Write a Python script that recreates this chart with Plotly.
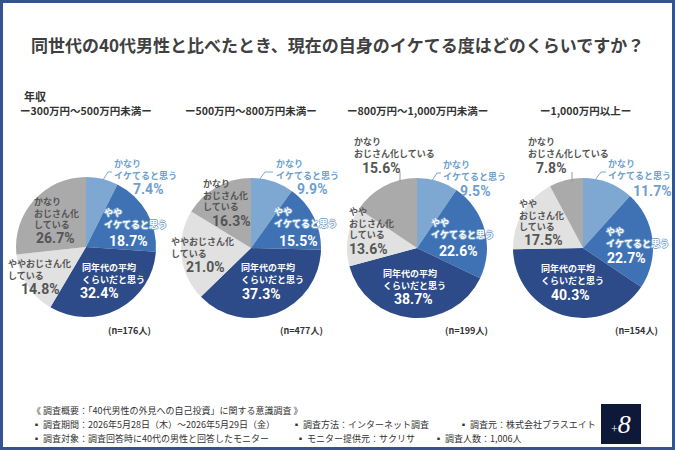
import plotly.graph_objects as go

W, H = 675, 450

# ---------------- data ----------------
categories = ["かなりイケてると思う", "ややイケてると思う", "同年代の平均くらいだと思う",
              "ややおじさん化している", "かなりおじさん化している"]
income_groups = ["ー300万円～500万円未満ー", "ー500万円～800万円未満ー",
                 "ー800万円～1,000万円未満ー", "ー1,000万円以上ー"]
sample_sizes = [176, 477, 199, 154]
vals_300_500 = [7.4, 18.7, 32.4, 14.8, 26.7]
vals_500_800 = [9.9, 15.5, 37.3, 21.0, 16.3]
vals_800_1000 = [9.5, 22.6, 38.7, 13.6, 15.6]
vals_1000_plus = [11.7, 22.7, 40.3, 17.5, 7.8]
series = [vals_300_500, vals_500_800, vals_800_1000, vals_1000_plus]

title_text = "同世代の40代男性と比べたとき、現在の自身のイケてる度はどのくらいですか？"
footer_lines = [
    [("《 調査概要：「40代男性の外見への自己投資」に関する意識調査 》", 30)],
    [("▪ 調査期間：2026年5月28日（木）～2026年5月29日（金）", 30),
     ("▪ 調査方法：インターネット調査", 290),
     ("▪ 調査元：株式会社プラスエイト", 457)],
    [("▪ 調査対象：調査回答時に40代の男性と回答したモニター", 30),
     ("▪ モニター提供元：サクリサ", 294),
     ("▪ 調査人数：1,006人", 432)],
]

# ---------------- style ----------------
slice_colors = ["#7EA8D1", "#3F72B4", "#2D4B88", "#E1E1E1", "#AAAAAA"]
label_colors = ["#6E9FCF", "#FFFFFF", "#FFFFFF", "#555555", "#555555"]
outline = ("-1px 0 #7EA8D1, 1px 0 #7EA8D1, 0 -1px #7EA8D1, 0 1px #7EA8D1")
label_shadows = ["none", outline, "none", "none", "none"]
JP = "Noto Sans CJK JP"
NUM = "Roboto"

def px(x):
    return x / W

def py(y):
    return 1 - y / H

centers = [(86, 247), (251, 248), (417, 248), (583, 248)]
R = 70

# label layout per pie: for each slice -> (line break points, x_left, y_first, pct_x, pct_y)
label_layout = [
    [([3], 113, 162, 148, 189), ([2], 103, 211, 128, 241), ([6], 81, 266, 99, 293),
     ([7], 7, 262, 40, 289), ([3, 8], 33, 200, 55, 238)],
    [([3], 275, 162, 312, 189), ([2], 273, 210, 298, 241), ([6], 240, 266, 261, 294),
     ([7], 170, 240, 205, 267), ([3, 8], 202, 182, 232, 221)],
    [([3], 442, 163, 475, 191), ([2], 430, 221, 458, 251), ([6], 382, 272, 413, 299),
     ([2, 7], 348, 210, 368, 249), ([3], 353, 140, 381, 168)],
    [([3], 607, 162, 652, 191), ([2], 605, 230, 626, 258), ([6], 540, 267, 570, 295),
     ([2, 7], 518, 202, 543, 240), ([3], 527, 140, 551, 168)],
]
leaders_a = [[(103, 180), (108, 172), (112, 172)],
             [(259, 180), (265, 172), (273, 172)],
             [(431, 182), (437, 173), (441, 173)],
             [(595, 180), (601, 172), (606, 172)]]
leaders_e = [None, None, [(400, 172), (400, 182)], [(572, 172), (572, 182)]]
header_x = [86, 251, 417, 585]
n_x = [153, 325, 490, 660]

fig = go.Figure()
annotations = []
shapes = []

def polyline(pts, color):
    path = "M " + " L ".join(f"{px(x)},{py(y)}" for x, y in pts)
    return dict(type="path", xref="paper", yref="paper", path=path,
                line=dict(color=color, width=1))

for i, vals in enumerate(series):
    cx, cy = centers[i]
    fig.add_trace(go.Pie(
        values=vals, labels=categories, sort=False, direction="clockwise", rotation=0,
        marker=dict(colors=slice_colors, line=dict(width=0)),
        textinfo="none", hoverinfo="label+percent", showlegend=False,
        domain=dict(x=[px(cx - R), px(cx + R)], y=[py(cy + R), py(cy - R)]),
    ))
    for j, v in enumerate(vals):
        breaks, xl, y0, pxc, pyc = label_layout[i][j]
        name = categories[j]
        pts = [0] + breaks + [len(name)]
        lines = [name[pts[k]:pts[k + 1]] for k in range(len(pts) - 1)]
        annotations.append(dict(
            text="<br>".join(lines), x=px(xl), y=py(y0 - 6), xref="paper", yref="paper",
            xanchor="left", yanchor="top", align="left", showarrow=False, borderpad=0,
            font=dict(family=JP, size=9, color=label_colors[j], weight="bold",
                      shadow=label_shadows[j])))
        annotations.append(dict(
            text=f"{v:.1f}%", x=px(pxc), y=py(pyc), xref="paper", yref="paper",
            xanchor="center", yanchor="middle", showarrow=False, borderpad=0,
            font=dict(family=NUM, size=14, color=label_colors[j], weight="bold")))
    shapes.append(polyline(leaders_a[i], "#7EA8D1"))
    if leaders_e[i]:
        shapes.append(polyline(leaders_e[i], "#9A9A9A"))
    annotations.append(dict(
        text=income_groups[i], x=px(header_x[i]), y=py(110), xref="paper",
        yref="paper", xanchor="center", yanchor="middle", showarrow=False,
        font=dict(family=JP, size=10.5, color="#333333", weight="bold")))
    annotations.append(dict(
        text=f"(n={sample_sizes[i]}人)", x=px(n_x[i]), y=py(330),
        xref="paper", yref="paper", xanchor="right", yanchor="middle", showarrow=False,
        font=dict(family=JP, size=9, color="#333333", weight="bold")))

annotations.append(dict(text=title_text, x=px(337), y=py(45), xref="paper", yref="paper",
                        xanchor="center", yanchor="middle", showarrow=False,
                        font=dict(family=JP, size=17, color="#404040", weight="bold")))
annotations.append(dict(text="年収", x=px(22), y=py(96), xref="paper", yref="paper",
                        xanchor="left", yanchor="middle", showarrow=False,
                        font=dict(family=JP, size=11, color="#333333", weight="bold")))

for li, row in enumerate(footer_lines):
    for txt, xl in row:
        annotations.append(dict(text=txt, x=px(xl), y=py(410 + li * 14), xref="paper",
                                yref="paper", xanchor="left", yanchor="middle",
                                showarrow=False,
                                font=dict(family=JP, size=9, color="#333333")))

# logo
shapes.append(dict(type="rect", xref="paper", yref="paper", x0=px(601), x1=px(641),
                   y0=py(444), y1=py(404), fillcolor="#0E1838", line=dict(width=0)))
annotations.append(dict(text="<span style='font-size:12px'>+</span><i>8</i>",
                        x=px(621), y=py(424), xref="paper", yref="paper",
                        xanchor="center", yanchor="middle", showarrow=False,
                        font=dict(family="Liberation Serif, DejaVu Serif", size=26,
                                  color="#FFFFFF")))
# frame
shapes.append(dict(type="rect", xref="paper", yref="paper", x0=px(1.5), x1=px(673.5),
                   y0=py(448.5), y1=py(1.5), line=dict(color="#34538F", width=3)))

fig.update_layout(width=W, height=H, margin=dict(l=0, r=0, t=0, b=0),
                  paper_bgcolor="#FFFFFF", plot_bgcolor="#FFFFFF",
                  annotations=annotations, shapes=shapes)
fig.write_html("out.html")
